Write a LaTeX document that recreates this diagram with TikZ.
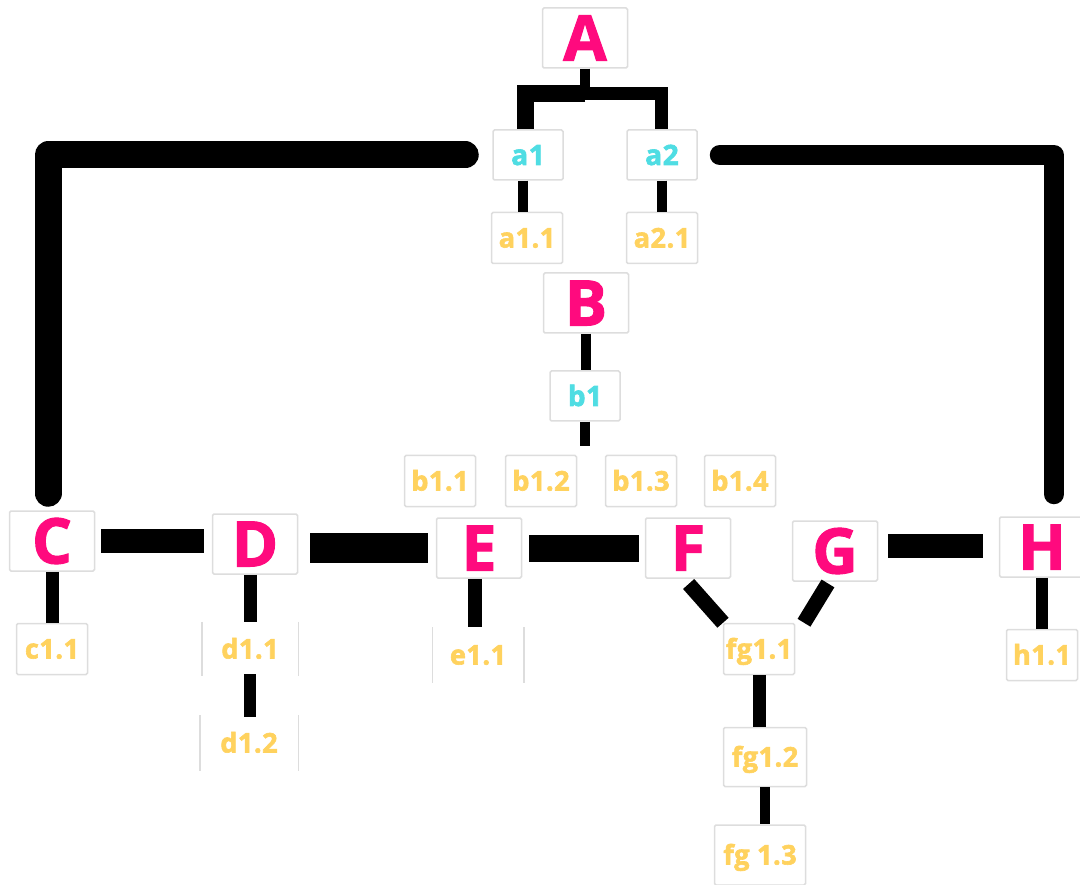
\documentclass[tikz,border=0pt]{standalone}
\usepackage{fontspec}
\setmainfont{Open Sans}
\newfontfamily\heavy{Open Sans}[UprightFont=* Bold, FakeBold=1.6]
\newfontfamily\heavysm{Open Sans}[UprightFont=* Bold, FakeBold=2.2, LetterSpace=2]
\definecolor{pinkc}{HTML}{FF0A7E}
\definecolor{cyanc}{HTML}{4FDDE3}
\definecolor{yellc}{HTML}{FFD25E}
\definecolor{boxc}{HTML}{DDDDDD}
\tikzset{
  basebox/.style={rectangle, rounded corners=1.5pt, fill=white, inner sep=0pt, text depth=0pt},
  bigbox/.style={basebox, draw=boxc, line width=1.5pt, minimum width=85pt, minimum height=60pt, text=pinkc, font=\fontsize{63}{63}\heavy, text height=45pt},
  cbox/.style={basebox, draw=boxc, line width=1.5pt, minimum width=70pt, minimum height=50pt, text=cyanc, font=\fontsize{28}{28}\heavysm, text height=20pt},
  ybox/.style={basebox, draw=boxc, line width=1.5pt, minimum width=71pt, minimum height=51pt, text=yellc, font=\fontsize{27}{27}\heavysm, text height=19pt},
  openbox/.style={ybox, draw=none},
  side/.style={draw=boxc, line width=1.5pt},
  link/.style={draw=black, line width=#1},
}
\begin{document}
\begin{tikzpicture}[x=1pt,y=-1pt]
\useasboundingbox (0,0) rectangle (1080,885);
% nodes
\node[bigbox] (A) at (585,38) {A};
\node[cbox] (a1) at (528,155) {a1};
\node[cbox] (a2) at (662,155) {a2};
\node[ybox] (a11) at (527,238) {a1.1};
\node[ybox] (a21) at (662,238) {a2.1};
\node[bigbox] (B) at (586,303) {B};
\node[cbox] (b1) at (585,396) {b1};
\node[ybox] (b11) at (440,481) {b1.1};
\node[ybox] (b12) at (541,481) {b1.2};
\node[ybox] (b13) at (641,481) {b1.3};
\node[ybox] (b14) at (740,481) {b1.4};
\node[bigbox] (C) at (52,541) {C};
\node[bigbox] (D) at (255,544) {D};
\node[bigbox] (E) at (479,548) {E};
\node[bigbox] (F) at (688,548) {F};
\node[bigbox] (G) at (835,551) {G};
\node[bigbox] (H) at (1042,547) {H};
\node[ybox] (c11) at (52,649) {c1.1};
\node[openbox, minimum width=95pt, minimum height=53pt] (d11) at (250,649) {d1.1};
\node[openbox, minimum width=97pt, minimum height=54pt] (d12) at (249,743) {d1.2};
\node[openbox, minimum width=90pt, minimum height=54pt] (e11) at (478,655) {e1.1};
\node[ybox] (fg11) at (759,649) {fg1.1};
\node[ybox, minimum width=83pt, minimum height=59pt] (fg12) at (765,757) {fg1.2};
\node[ybox, minimum width=91pt, minimum height=60pt] (fg13) at (760,855) {fg 1.3};
\node[ybox] (h11) at (1042,655) {h1.1};
% open box sides
\foreach \n in {d11,d12,e11}{
  \draw[side] (\n.north west) -- (\n.south west);
  \draw[side] (\n.north east) -- (\n.south east);
}
% connectors
\coordinate (jA) at (585,94);
\draw[link=10pt] (A.south) -- (jA);
\draw[link=17pt] (jA) -| ([xshift=-3pt]a1.north);
\draw[link=13pt] (jA) -| ([xshift=-1pt]a2.north);
\draw[link=10pt] ([xshift=-5pt]a1.south) -- ([xshift=-4pt]a11.north);
\draw[link=10pt] (a2.south) -- (a21.north);
\draw[link=27pt, line cap=round, line join=round] ([xshift=-27pt]a1.west) -| ([xshift=-4pt,yshift=17pt]C.north);
\draw[link=20pt, line cap=round, line join=round] ([xshift=22pt]a2.east) -| ([xshift=12pt,yshift=22pt]H.north);
\draw[link=10pt] (B.south) -- (B.south |- b1.north);
\draw[link=10pt] (b1.south) -- ([yshift=-24pt]b1.south);
\draw[link=24pt, shorten <=6pt, shorten >=8pt] (C.east) -- (C.east -| D.west);
\draw[link=30pt, shorten <=12pt, shorten >=8pt] ([yshift=-4pt]D.east) -- ([yshift=-4pt]D.east -| E.west);
\draw[link=27pt, shorten <=7pt, shorten >=6pt] (E.east) -- (E.east -| F.west);
\draw[link=24pt, shorten <=10pt, shorten >=16pt] ([yshift=5pt]G.east) -- ([yshift=5pt]G.east -| H.west);
\draw[link=13pt] (C.south) -- (c11.north);
\draw[link=13pt] (d11.north |- D.south) -- (d11.north);
\draw[link=12pt, shorten <=-2pt, shorten >=-2pt] (d11.south) -- (d11.south |- d12.north);
\draw[link=14pt] ([xshift=-3pt]e11.north |- E.south) -- ([xshift=-3pt]e11.north);
\draw[link=15pt, shorten <=7pt] ([xshift=-4pt]F.south) -- ([xshift=-36pt]fg11.north);
\draw[link=15pt, shorten <=2pt] ([xshift=-6pt]G.south) -- ([xshift=45pt]fg11.north);
\draw[link=13pt] (fg11.south) -- (fg11.south |- fg12.north);
\draw[link=10pt] (fg12.south) -- (fg12.south |- fg13.north);
\draw[link=12pt] (H.south) -- (h11.north);
\end{tikzpicture}
\end{document}
